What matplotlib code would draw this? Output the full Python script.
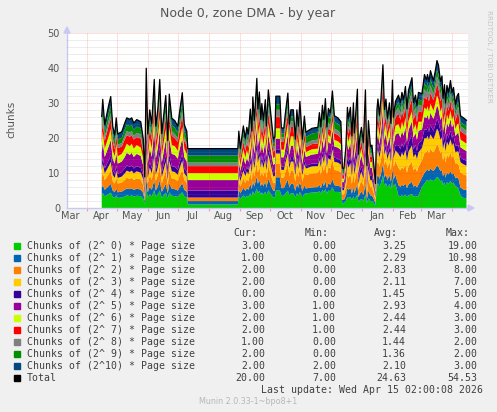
import numpy as np
import matplotlib
matplotlib.use('Agg')
import matplotlib.pyplot as plt
import matplotlib.dates as mdates
from matplotlib.patches import Polygon, Rectangle
from datetime import datetime

# sample days, counted from 2025-04-01
day = [15, 16, 18, 22, 24, 26, 28, 29.5, 31, 35, 38, 40, 43, 45, 47, 50, 54, 56.5, 58, 59.5,
       61, 63, 65, 67.5, 69, 71, 73, 75, 79, 81, 82.5, 85, 88, 91, 92.5, 95.5, 97.5, 100,
       101, 151,
       152, 153.5, 156.5, 158.5, 160, 161.5, 163.5, 165, 166, 167.5, 170, 171, 172.5, 174, 175,
       176.5, 178.5, 179.5, 181.5, 183.5, 186.5, 188,
       189, 193,
       194.5, 197, 198.5, 201, 202.5, 204, 206.5, 208.5, 210, 211.5, 213, 215.5, 217.5,
       219, 225, 231,
       232.5, 234, 235.5, 237, 238.5, 240, 241.5, 243.5, 245.5, 247.5, 251, 254,
       255.5, 257, 259, 260.5, 261.5, 263.5, 265, 266.5, 267.5, 270.5, 271.5, 273, 274.5, 276.5,
       278.5, 280, 281.5, 283.5, 285, 287, 288.5,
       290, 291, 292.5, 294, 296, 297.5, 299, 300.5, 302.5, 304, 305.5, 306.5, 308.5,
       311.5, 313.5, 315, 316.5, 318.5, 320, 321.5, 325, 326.5, 328.5, 330, 331.5,
       335, 337.5, 339.5, 340.5, 342, 343.5, 345, 346.5, 348.5, 350, 351.5, 353.5, 355, 356,
       357.5, 358.5, 360, 361.5, 363.5, 365, 366.5, 368.5,
       370, 371.5, 373.5, 376.5, 379.5]

order0 = [3.6, 4.3, 3.3, 4.0, 4.4, 3.2, 2.9, 3.6, 2.9, 3.0, 3.3, 3.6, 3.4, 3.6, 3.3, 3.5, 3.4, 2.7, 1.2, 5.5,
          2.9, 3.9, 3.3, 5.1, 3.2, 3.9, 5.0, 2.9, 4.4, 2.7, 4.5, 3.5, 3.4, 3.2, 3.7, 4.5, 3.3, 3.0,
          1, 1,
          3.3, 2.6, 3.6, 3.0, 3.5, 3.2, 4.2, 3.3, 4.8, 3.8, 5.6, 4.2, 5.0, 3.8, 4.5, 3.8, 4.7, 3.6, 5.1, 4.2, 3.0, 3.1,
          5, 5,
          3.5, 3.5, 4.1, 5.0, 3.6, 4.2, 4.2, 3.0, 4.2, 3.6, 4.6, 3.0, 4.0,
          4.2, 4.4, 4.5,
          4.8, 4.1, 5.2, 4.5, 5.5, 4.1, 5.0, 4.8, 5.9, 4.6, 4.6, 4.4,
          1.3, 1.3, 2.0, 3.2, 2.9, 3.2, 2.3, 3.4, 2.4, 3.8, 1.7, 2.3, 2.6, 2.1, 3.8, 1.4, 2.8, 2.0, 2.0, 1.4, 0.8,
          6.4, 7.1, 6.1, 7.1, 9.4, 6.4, 7.1, 5.9, 6.9, 5.5, 8.4, 6.0, 7.0,
          3.5, 3.3, 3.6, 3.4, 3.8, 3.1, 3.6, 4.0, 3.3, 3.5, 3.2, 3.6,
          6.0, 7.0, 7.8, 8.1, 7.6, 8.2, 7.9, 7.7, 8.3, 8.9, 8.6, 7.6, 7.9, 6.6, 7.4, 6.3, 7.4, 7.0, 7.7, 7.0, 7.3, 6.2,
          6.0, 5.5, 3.5, 2.9, 2.8]

order1 = [2.0, 2.4, 1.9, 2.3, 2.5, 1.8, 1.6, 2.0, 1.6, 1.7, 1.9, 2.0, 2.0, 2.0, 1.9, 2.0, 1.9, 1.6, 0.7, 3.1,
          1.6, 2.2, 1.9, 2.9, 1.8, 2.2, 2.9, 1.7, 2.5, 1.5, 2.6, 2.0, 2.0, 1.8, 2.1, 2.6, 1.9, 1.7,
          1, 1,
          2.1, 1.6, 2.2, 1.9, 2.2, 2.0, 2.7, 2.1, 3.0, 2.4, 3.5, 2.7, 3.1, 2.4, 2.8, 2.4, 2.9, 2.2, 3.2, 2.7, 1.9, 1.9,
          3.8, 3.8,
          2.2, 2.2, 2.6, 3.1, 2.3, 2.7, 2.7, 1.9, 2.7, 2.2, 2.9, 1.9, 2.5,
          1.4, 1.5, 1.5,
          1.9, 1.6, 2.1, 1.8, 2.2, 1.6, 2.0, 1.9, 2.4, 1.9, 1.8, 1.7,
          1.0, 1.0, 1.6, 2.6, 2.3, 2.6, 1.8, 2.7, 1.9, 3.0, 1.4, 1.8, 2.1, 1.7, 3.0, 1.1, 2.2, 1.6, 1.6, 1.1, 0.6,
          2.3, 2.6, 2.2, 2.6, 3.4, 2.3, 2.6, 2.1, 2.5, 2.0, 3.0, 2.1, 2.5,
          3.0, 2.8, 3.1, 2.9, 3.2, 2.6, 3.1, 3.5, 2.8, 3.0, 2.7, 3.1,
          2.7, 3.1, 2.9, 3.0, 2.9, 3.1, 3.0, 2.9, 3.1, 3.3, 3.2, 2.9, 3.0, 2.5, 2.8, 2.4, 2.8, 2.6, 2.9, 2.6, 2.7, 2.3,
          2.8, 3.0, 2.4, 2.4, 2.3]

order2 = [3.1, 3.7, 2.8, 3.4, 3.8, 2.7, 2.5, 3.1, 2.5, 2.6, 2.8, 3.1, 2.9, 3.1, 2.8, 3.0, 2.9, 2.3, 1.1, 4.7,
          2.5, 3.3, 2.8, 4.4, 2.7, 3.3, 4.3, 2.5, 3.8, 2.3, 3.9, 3.0, 2.9, 2.7, 3.2, 3.9, 2.8, 2.6,
          1, 1,
          2.5, 1.9, 2.7, 2.3, 2.6, 2.4, 3.2, 2.5, 3.6, 2.8, 4.2, 3.2, 3.8, 2.9, 3.4, 2.8, 3.5, 2.7, 3.8, 3.2, 2.2, 2.3,
          3.8, 3.8,
          3.0, 3.0, 3.6, 4.4, 3.2, 3.7, 3.7, 2.6, 3.7, 3.1, 4.1, 2.6, 3.5,
          3.8, 4.0, 4.0,
          4.6, 3.9, 4.9, 4.3, 5.2, 3.9, 4.8, 4.6, 5.6, 4.4, 4.3, 4.1,
          1.5, 1.5, 2.3, 3.9, 3.4, 3.9, 2.8, 4.0, 2.9, 4.6, 2.1, 2.8, 3.1, 2.5, 4.5, 1.6, 3.4, 2.3, 2.4, 1.6, 0.9,
          3.7, 4.1, 3.5, 4.1, 5.4, 3.7, 4.1, 3.4, 3.9, 3.2, 4.8, 3.4, 4.0,
          5.0, 4.7, 5.1, 4.8, 5.4, 4.4, 5.2, 5.8, 4.7, 5.0, 4.5, 5.1,
          4.9, 5.7, 5.3, 5.6, 5.2, 5.7, 5.4, 5.3, 5.7, 6.1, 5.9, 5.2, 5.4, 4.5, 5.1, 4.3, 5.1, 4.8, 5.3, 4.8, 5.0, 4.3,
          4.0, 4.0, 4.3, 4.3, 4.2]

order3 = [2.0, 2.4, 1.9, 2.3, 2.5, 1.8, 1.6, 2.0, 1.6, 1.7, 1.9, 2.0, 2.0, 2.0, 1.9, 2.0, 1.9, 1.6, 0.7, 3.1,
          1.6, 2.2, 1.9, 2.9, 1.8, 2.2, 2.9, 1.7, 2.5, 1.5, 2.6, 2.0, 2.0, 1.8, 2.1, 2.6, 1.9, 1.7,
          0, 0,
          2.1, 1.6, 2.2, 1.9, 2.2, 2.0, 2.7, 2.1, 3.0, 2.4, 3.5, 2.7, 3.1, 2.4, 2.8, 2.4, 2.9, 2.2, 3.2, 2.7, 1.9, 1.9,
          3, 3,
          2.2, 2.2, 2.6, 3.1, 2.3, 2.7, 2.7, 1.9, 2.7, 2.2, 2.9, 1.9, 2.5,
          1.9, 2.0, 2.0,
          2.4, 2.1, 2.6, 2.2, 2.8, 2.1, 2.5, 2.4, 2.9, 2.3, 2.3, 2.2,
          1.3, 1.3, 2.0, 3.2, 2.9, 3.2, 2.3, 3.4, 2.4, 3.8, 1.7, 2.3, 2.6, 2.1, 3.8, 1.4, 2.8, 2.0, 2.0, 1.4, 0.8,
          2.8, 3.1, 2.6, 3.1, 4.0, 2.8, 3.1, 2.5, 2.9, 2.4, 3.6, 2.6, 3.0,
          4.0, 3.7, 4.1, 3.8, 4.3, 3.5, 4.2, 4.6, 3.7, 4.0, 3.6, 4.1,
          3.6, 4.2, 3.9, 4.0, 3.8, 4.1, 4.0, 3.8, 4.2, 4.4, 4.3, 3.8, 4.0, 3.3, 3.7, 3.2, 3.7, 3.5, 3.8, 3.5, 3.6, 3.1,
          3.4, 3.6, 2.9, 2.9, 2.8]

order4 = [1.5, 1.8, 1.4, 1.7, 1.9, 1.4, 1.2, 1.5, 1.2, 1.3, 1.4, 1.5, 1.5, 1.5, 1.4, 1.5, 1.4, 1.2, 0.5, 2.4,
          1.2, 1.7, 1.4, 2.2, 1.4, 1.7, 2.1, 1.3, 1.9, 1.1, 1.9, 1.5, 1.5, 1.4, 1.6, 1.9, 1.4, 1.3,
          2, 2,
          1.2, 1.0, 1.3, 1.1, 1.3, 1.2, 1.6, 1.2, 1.8, 1.4, 2.1, 1.6, 1.9, 1.4, 1.7, 1.4, 1.8, 1.3, 1.9, 1.6, 1.1, 1.2,
          1.2, 1.2,
          1.0, 1.0, 1.2, 1.5, 1.1, 1.3, 1.3, 0.9, 1.3, 1.1, 1.4, 0.9, 1.2,
          0.8, 0.8, 0.8,
          1.2, 1.0, 1.3, 1.1, 1.4, 1.0, 1.3, 1.2, 1.5, 1.2, 1.1, 1.1,
          0.8, 0.8, 1.2, 1.9, 1.7, 1.9, 1.4, 2.0, 1.4, 2.3, 1.0, 1.4, 1.5, 1.2, 2.3, 0.8, 1.7, 1.2, 1.2, 0.8, 0.5,
          1.4, 1.5, 1.3, 1.5, 2.0, 1.4, 1.5, 1.3, 1.5, 1.2, 1.8, 1.3, 1.5,
          2.5, 2.3, 2.6, 2.4, 2.7, 2.2, 2.6, 2.9, 2.3, 2.5, 2.3, 2.6,
          2.2, 2.6, 2.4, 2.5, 2.4, 2.6, 2.5, 2.4, 2.6, 2.8, 2.7, 2.4, 2.5, 2.1, 2.3, 2.0, 2.3, 2.2, 2.4, 2.2, 2.3, 2.0,
          1.7, 1.8, 1.4, 1.4, 1.4]

order5 = [3.6, 4.3, 3.3, 4.0, 4.4, 3.2, 2.9, 3.6, 2.9, 3.0, 3.3, 3.6, 3.4, 3.6, 3.3, 3.5, 3.4, 2.7, 1.2, 5.5,
          2.9, 3.9, 3.3, 5.1, 3.2, 3.9, 5.0, 2.9, 4.4, 2.7, 4.5, 3.5, 3.4, 3.2, 3.7, 4.5, 3.3, 3.0,
          3, 3,
          2.5, 1.9, 2.7, 2.3, 2.6, 2.4, 3.2, 2.5, 3.6, 2.8, 4.2, 3.2, 3.8, 2.9, 3.4, 2.8, 3.5, 2.7, 3.8, 3.2, 2.2, 2.3,
          3, 3,
          2.6, 2.6, 3.1, 3.8, 2.7, 3.2, 3.2, 2.2, 3.2, 2.7, 3.5, 2.2, 3.0,
          2.5, 2.6, 2.7,
          3.4, 2.9, 3.6, 3.1, 3.9, 2.9, 3.5, 3.4, 4.1, 3.2, 3.2, 3.1,
          1.5, 1.5, 2.3, 3.9, 3.4, 3.9, 2.8, 4.0, 2.9, 4.6, 2.1, 2.8, 3.1, 2.5, 4.5, 1.6, 3.4, 2.3, 2.4, 1.6, 0.9,
          2.8, 3.1, 2.6, 3.1, 4.0, 2.8, 3.1, 2.5, 2.9, 2.4, 3.6, 2.6, 3.0,
          3.5, 3.3, 3.6, 3.4, 3.8, 3.1, 3.6, 4.0, 3.3, 3.5, 3.2, 3.6,
          3.1, 3.6, 3.4, 3.5, 3.3, 3.6, 3.5, 3.4, 3.6, 3.9, 3.8, 3.3, 3.5, 2.9, 3.3, 2.8, 3.2, 3.0, 3.4, 3.0, 3.2, 2.7,
          3.4, 3.6, 2.9, 2.9, 2.8]

order6 = [2.6, 3.1, 2.4, 2.9, 3.1, 2.3, 2.1, 2.6, 2.1, 2.2, 2.4, 2.6, 2.5, 2.6, 2.4, 2.5, 2.4, 2.0, 0.9, 3.9,
          2.1, 2.8, 2.4, 3.6, 2.3, 2.8, 3.6, 2.1, 3.1, 1.9, 3.2, 2.5, 2.5, 2.3, 2.7, 3.2, 2.4, 2.2,
          2, 2,
          2.1, 1.6, 2.2, 1.9, 2.2, 2.0, 2.7, 2.1, 3.0, 2.4, 3.5, 2.7, 3.1, 2.4, 2.8, 2.4, 2.9, 2.2, 3.2, 2.7, 1.9, 1.9,
          3, 3,
          2.2, 2.2, 2.6, 3.1, 2.3, 2.7, 2.7, 1.9, 2.7, 2.2, 2.9, 1.9, 2.5,
          1.4, 1.5, 1.5,
          1.9, 1.6, 2.1, 1.8, 2.2, 1.6, 2.0, 1.9, 2.4, 1.9, 1.8, 1.7,
          1.0, 1.0, 1.6, 2.6, 2.3, 2.6, 1.8, 2.7, 1.9, 3.0, 1.4, 1.8, 2.1, 1.7, 3.0, 1.1, 2.2, 1.6, 1.6, 1.1, 0.6,
          2.3, 2.6, 2.2, 2.6, 3.4, 2.3, 2.6, 2.1, 2.5, 2.0, 3.0, 2.1, 2.5,
          2.5, 2.3, 2.6, 2.4, 2.7, 2.2, 2.6, 2.9, 2.3, 2.5, 2.3, 2.6,
          2.2, 2.6, 2.4, 2.5, 2.4, 2.6, 2.5, 2.4, 2.6, 2.8, 2.7, 2.4, 2.5, 2.1, 2.3, 2.0, 2.3, 2.2, 2.4, 2.2, 2.3, 2.0,
          2.6, 2.7, 2.2, 2.2, 2.1]

order7 = [2.8, 3.0, 2.2, 3.1, 3.0, 2.5, 2.0, 2.4, 2.3, 2.1, 2.6, 2.4, 2.7, 2.4, 2.6, 2.3, 2.6, 1.8, 0.9, 4.0,
          2.3, 2.6, 2.5, 3.4, 2.5, 2.6, 3.8, 2.0, 3.3, 1.8, 3.0, 2.7, 2.3, 2.5, 2.5, 3.4, 2.2, 2.3,
          2, 2,
          2.1, 1.6, 2.2, 1.9, 2.2, 2.0, 2.7, 2.1, 3.0, 2.4, 3.5, 2.7, 3.1, 2.4, 2.8, 2.4, 2.9, 2.2, 3.2, 2.7, 1.9, 1.9,
          3.3, 3.3,
          2.2, 2.2, 2.6, 3.1, 2.3, 2.7, 2.7, 1.9, 2.7, 2.2, 2.9, 1.9, 2.5,
          1.4, 1.5, 1.5,
          1.9, 1.6, 2.1, 1.8, 2.2, 1.6, 2.0, 1.9, 2.4, 1.9, 1.8, 1.7,
          1.0, 1.0, 1.6, 2.6, 2.3, 2.6, 1.8, 2.7, 1.9, 3.0, 1.4, 1.8, 2.1, 1.7, 3.0, 1.1, 2.2, 1.6, 1.6, 1.1, 0.6,
          2.3, 2.6, 2.2, 2.6, 3.4, 2.3, 2.6, 2.1, 2.5, 2.0, 3.0, 2.1, 2.5,
          3.0, 2.8, 3.1, 2.9, 3.2, 2.6, 3.1, 3.5, 2.8, 3.0, 2.7, 3.1,
          2.7, 3.1, 2.9, 3.0, 2.9, 3.1, 3.0, 2.9, 3.1, 3.3, 3.2, 2.9, 3.0, 2.5, 2.8, 2.4, 2.8, 2.6, 2.9, 2.6, 2.7, 2.3,
          2.8, 3.0, 2.4, 2.4, 2.3]

order8 = [1.2, 1.5, 1.1, 1.4, 1.5, 1.1, 1.0, 1.2, 1.0, 1.0, 1.1, 1.2, 1.2, 1.2, 1.1, 1.2, 1.2, 0.9, 0.4, 1.9,
          1.0, 1.3, 1.1, 1.7, 1.1, 1.3, 1.7, 1.0, 1.5, 0.9, 1.5, 1.2, 1.2, 1.1, 1.3, 1.5, 1.1, 1.0,
          1, 1,
          1.2, 1.0, 1.3, 1.1, 1.3, 1.2, 1.6, 1.2, 1.8, 1.4, 2.1, 1.6, 1.9, 1.4, 1.7, 1.4, 1.8, 1.3, 1.9, 1.6, 1.1, 1.2,
          2, 2,
          1.3, 1.3, 1.5, 1.9, 1.4, 1.6, 1.6, 1.1, 1.6, 1.3, 1.7, 1.1, 1.5,
          1.0, 1.0, 1.1,
          1.3, 1.1, 1.4, 1.2, 1.5, 1.1, 1.4, 1.3, 1.6, 1.3, 1.3, 1.2,
          0.6, 0.6, 0.9, 1.5, 1.4, 1.5, 1.1, 1.6, 1.2, 1.8, 0.8, 1.1, 1.2, 1.0, 1.8, 0.6, 1.3, 0.9, 1.0, 0.6, 0.4,
          1.4, 1.5, 1.3, 1.5, 2.0, 1.4, 1.5, 1.3, 1.5, 1.2, 1.8, 1.3, 1.5,
          1.8, 1.7, 1.8, 1.7, 1.9, 1.6, 1.9, 2.1, 1.7, 1.8, 1.6, 1.8,
          1.8, 2.1, 1.9, 2.0, 1.9, 2.1, 2.0, 1.9, 2.1, 2.2, 2.2, 1.9, 2.0, 1.6, 1.9, 1.6, 1.8, 1.7, 1.9, 1.7, 1.8, 1.6,
          1.7, 1.8, 1.4, 1.4, 1.4]

order9 = [1.8, 2.2, 1.7, 2.1, 2.3, 1.6, 1.5, 1.8, 1.5, 1.5, 1.7, 1.8, 1.8, 1.8, 1.7, 1.8, 1.7, 1.4, 0.6, 2.8,
          1.5, 2.0, 1.7, 2.6, 1.6, 2.0, 2.6, 1.5, 2.3, 1.4, 2.3, 1.8, 1.8, 1.6, 1.9, 2.3, 1.7, 1.5,
          2, 2,
          1.2, 1.0, 1.3, 1.1, 1.3, 1.2, 1.6, 1.2, 1.8, 1.4, 2.1, 1.6, 1.9, 1.4, 1.7, 1.4, 1.8, 1.3, 1.9, 1.6, 1.1, 1.2,
          1.5, 1.5,
          1.1, 1.1, 1.3, 1.6, 1.2, 1.4, 1.4, 1.0, 1.4, 1.2, 1.5, 1.0, 1.3,
          1.9, 2.0, 2.0,
          2.1, 1.8, 2.2, 1.9, 2.3, 1.8, 2.1, 2.1, 2.5, 2.0, 1.9, 1.9,
          0.6, 0.6, 0.9, 1.5, 1.4, 1.5, 1.1, 1.6, 1.2, 1.8, 0.8, 1.1, 1.2, 1.0, 1.8, 0.6, 1.3, 0.9, 1.0, 0.6, 0.4,
          1.1, 1.2, 1.0, 1.2, 1.6, 1.1, 1.2, 1.0, 1.2, 0.9, 1.4, 1.0, 1.2,
          1.5, 1.4, 1.5, 1.4, 1.6, 1.3, 1.6, 1.7, 1.4, 1.5, 1.4, 1.5,
          1.5, 1.8, 1.6, 1.7, 1.6, 1.8, 1.7, 1.6, 1.8, 1.9, 1.8, 1.6, 1.7, 1.4, 1.6, 1.3, 1.6, 1.5, 1.6, 1.5, 1.5, 1.3,
          1.5, 1.5, 1.2, 1.2, 1.2]

order10 = [2.0, 2.4, 1.9, 2.3, 2.5, 1.8, 1.6, 2.0, 1.6, 1.7, 1.9, 2.0, 2.0, 2.0, 1.9, 2.0, 1.9, 1.6, 0.7, 3.1,
           1.6, 2.2, 1.9, 2.9, 1.8, 2.2, 2.9, 1.7, 2.5, 1.5, 2.6, 2.0, 2.0, 1.8, 2.1, 2.6, 1.9, 1.7,
           2, 2,
           1.7, 1.3, 1.8, 1.5, 1.7, 1.6, 2.1, 1.7, 2.4, 1.9, 2.8, 2.1, 2.5, 1.9, 2.3, 1.9, 2.3, 1.8, 2.6, 2.1, 1.5, 1.5,
           2.4, 2.4,
           1.6, 1.6, 1.9, 2.3, 1.6, 1.9, 1.9, 1.3, 1.9, 1.6, 2.1, 1.3, 1.8,
           1.4, 1.5, 1.5,
           1.8, 1.5, 1.9, 1.7, 2.1, 1.5, 1.9, 1.8, 2.2, 1.7, 1.7, 1.6,
           0.8, 0.8, 1.2, 1.9, 1.7, 1.9, 1.4, 2.0, 1.4, 2.3, 1.0, 1.4, 1.5, 1.2, 2.3, 0.8, 1.7, 1.2, 1.2, 0.8, 0.5,
           1.7, 1.8, 1.6, 1.8, 2.4, 1.7, 1.8, 1.5, 1.8, 1.4, 2.2, 1.5, 1.8,
           2.0, 1.9, 2.0, 1.9, 2.2, 1.8, 2.1, 2.3, 1.9, 2.0, 1.8, 2.0,
           2.0, 2.4, 2.2, 2.3, 2.2, 2.4, 2.3, 2.2, 2.4, 2.6, 2.5, 2.2, 2.3, 1.9, 2.1, 1.8, 2.1, 2.0, 2.2, 2.0, 2.1, 1.8,
           2.1, 2.3, 1.8, 1.8, 1.8]

labels = ['Chunks of (2^ 0) * Page size', 'Chunks of (2^ 1) * Page size',
          'Chunks of (2^ 2) * Page size', 'Chunks of (2^ 3) * Page size',
          'Chunks of (2^ 4) * Page size', 'Chunks of (2^ 5) * Page size',
          'Chunks of (2^ 6) * Page size', 'Chunks of (2^ 7) * Page size',
          'Chunks of (2^ 8) * Page size', 'Chunks of (2^ 9) * Page size',
          'Chunks of (2^10) * Page size', 'Total']
cur = [3.00, 1.00, 2.00, 2.00, 0.00, 3.00, 2.00, 2.00, 1.00, 2.00, 2.00, 20.00]
mins = [0.00, 0.00, 0.00, 0.00, 0.00, 1.00, 1.00, 1.00, 0.00, 0.00, 2.00, 7.00]
avgs = [3.25, 2.29, 2.83, 2.11, 1.45, 2.93, 2.44, 2.44, 1.44, 1.36, 2.10, 24.63]
maxs = [19.00, 10.98, 8.00, 7.00, 5.00, 4.00, 3.00, 3.00, 2.00, 2.00, 3.00, 54.53]
month_labels = ['Mar', 'Apr', 'May', 'Jun', 'Jul', 'Aug', 'Sep', 'Oct', 'Nov', 'Dec', 'Jan', 'Feb', 'Mar']

colors = ['#00cc00', '#0066b3', '#ff8000', '#ffcc00', '#330099', '#990099',
          '#ccff00', '#ff0000', '#808080', '#008f00', '#00487d', '#000000']

series = [order0, order1, order2, order3, order4, order5, order6, order7, order8, order9, order10]
for s in series:
    assert len(s) == len(day), len(s)

W, H = 497, 412
fig = plt.figure(figsize=(W / 100, H / 100), dpi=100, facecolor='#f0f0f0')


def fx(px):
    return px / W


def fy(py):
    return 1 - py / H


ax = fig.add_axes([fx(67), fy(208), 401 / W, 174.7 / H])
ax.set_facecolor('white')

t0 = mdates.date2num(datetime(2025, 4, 1))
x = t0 + np.array(day)
ax.stackplot(x, *series, colors=colors[:11], linewidth=0, zorder=1)
total = np.sum(np.array(series), axis=0)
ax.plot(x, total, color='black', lw=0.9, zorder=4)

ax.set_xlim(t0 - 19.7, t0 + 381.0)
ax.set_ylim(0, 50)

# grid drawn over the areas, like rrdtool
for v in range(2, 50, 2):
    if v % 10:
        ax.axhline(v, color=(0.55, 0.55, 0.55, 0.45), lw=0.6, dashes=(1, 1.4), zorder=3)
for v in range(10, 51, 10):
    ax.axhline(v, color=(1, 0.2, 0.2, 0.45), lw=0.6, dashes=(1, 1.4), zorder=3)

month_starts = [mdates.date2num(datetime(2025 + (m > 12), (m - 1) % 12 + 1, 1)) for m in range(4, 17)]
for m in month_starts:
    ax.axvline(m, color=(1, 0.2, 0.2, 0.45), lw=0.6, dashes=(1, 1.4), zorder=3)

mid_months = [mdates.date2num(datetime(2025 + (m > 12), (m - 1) % 12 + 1, 16)) for m in range(3, 16)]
ax.set_xticks(month_starts)
ax.set_xticklabels([])
ax.tick_params(axis='x', which='major', length=2, color='#f0a0a0', direction='out')
ax.set_xticks(mid_months, minor=True)
ax.set_xticklabels(month_labels, minor=True)
ax.tick_params(axis='x', which='minor', length=0, pad=2.5, labelsize=7, labelcolor='#555555')

ax.set_yticks(range(0, 51, 10))
ax.tick_params(axis='y', length=0, pad=5, labelsize=7, labelcolor='#555555')

for side in ['top', 'right']:
    ax.spines[side].set_visible(False)
for side in ['left', 'bottom']:
    ax.spines[side].set_color('#c8c8f4')
    ax.spines[side].set_linewidth(1.0)

# axis arrows
fig.patches.append(Polygon([(fx(64), fy(33)), (fx(70), fy(33)), (fx(67), fy(27))],
                           closed=True, transform=fig.transFigure, color='#c8c8f4'))
fig.patches.append(Polygon([(fx(468), fy(205)), (fx(468), fy(211)), (fx(474), fy(208))],
                           closed=True, transform=fig.transFigure, color='#c8c8f4'))

fig.text(fx(248), fy(13), 'Node 0, zone DMA - by year', ha='center', va='center',
         fontsize=9, color='#555555')
fig.text(fx(11), fy(119), 'chunks', rotation=90, ha='center', va='center',
         fontsize=7.5, color='#555555')
fig.text(fx(488.5), fy(56), 'RRDTOOL / TOBI OETIKER', rotation=270, ha='center', va='center',
         fontsize=5.2, color='#c4c4c4')

# legend block
mono = 'DejaVu Sans Mono'
fs = 7.1
tc = '#404040'
hdr_y = 233.3
for name, xr in zip(['Cur:', 'Min:', 'Avg:', 'Max:'], [257.3, 328.3, 398.3, 469.3]):
    fig.text(fx(xr), fy(hdr_y), name, ha='right', va='center', family=mono, fontsize=fs, color=tc)

for i, lab in enumerate(labels):
    yc = 245.7 + 12 * i
    fig.patches.append(Rectangle((fx(14), fy(yc + 3)), 6 / W, 6 / H,
                                 transform=fig.transFigure, color=colors[i]))
    fig.text(fx(27), fy(yc), lab, ha='left', va='center', family=mono, fontsize=fs, color=tc)
    for vals, xr in zip([cur, mins, avgs, maxs], [265, 336, 406, 477.3]):
        fig.text(fx(xr), fy(yc), '%.2f' % vals[i], ha='right', va='center',
                 family=mono, fontsize=fs, color=tc)

fig.text(fx(483.3), fy(389.7), 'Last update: Wed Apr 15 02:00:08 2026', ha='right', va='center',
         family=mono, fontsize=fs, color=tc)
fig.text(fx(248), fy(401), 'Munin 2.0.33-1~bpo8+1', ha='center', va='center',
         fontsize=5.8, color='#b8b8b8')

fig.savefig('out.png', dpi=100, facecolor=fig.get_facecolor())
